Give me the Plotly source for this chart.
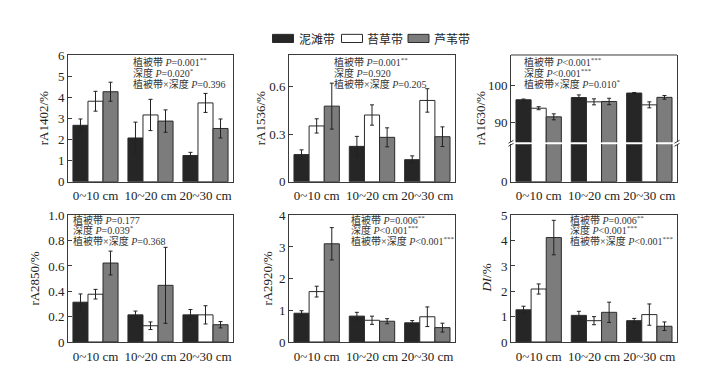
import plotly.graph_objects as go

# ---------------- data ----------------
depths = ["0~10 cm", "10~20 cm", "20~30 cm"]
zones = ["泥滩带", "苔草带", "芦苇带"]

# each list: [泥滩带, 苔草带, 芦苇带] rows, values per depth
rA1402 = [[2.67, 2.07, 1.24], [3.81, 3.16, 3.73], [4.26, 2.87, 2.52]]
rA1402_err = [[0.30, 0.75, 0.15], [0.47, 0.74, 0.45], [0.45, 0.53, 0.45]]

rA1536 = [[0.171, 0.223, 0.139], [0.352, 0.421, 0.513], [0.477, 0.280, 0.284]]
rA1536_err = [[0.030, 0.063, 0.024], [0.045, 0.064, 0.074], [0.145, 0.060, 0.062]]

rA1630 = [[96.15, 96.75, 97.95], [93.9, 95.6, 94.8], [91.6, 95.7, 96.8]]
rA1630_err = [[0.2, 0.7, 0.15], [0.4, 0.8, 0.8], [0.8, 0.85, 0.5]]

rA2850 = [[0.314, 0.214, 0.214], [0.377, 0.128, 0.214], [0.623, 0.447, 0.136]]
rA2850_err = [[0.065, 0.030, 0.042], [0.038, 0.030, 0.072], [0.094, 0.300, 0.025]]

rA2920 = [[0.907, 0.816, 0.605], [1.59, 0.685, 0.796], [3.10, 0.655, 0.453]]
rA2920_err = [[0.08, 0.12, 0.07], [0.17, 0.13, 0.31], [0.51, 0.08, 0.14]]

DI = [[1.27, 1.05, 0.84], [2.09, 0.84, 1.08], [4.12, 1.17, 0.62]]
DI_err = [[0.14, 0.16, 0.09], [0.20, 0.16, 0.42], [0.68, 0.40, 0.17]]

y_titles = ["rA1402/%", "rA1536/%", "rA1630/%", "rA2850/%", "rA2920/%", "<i>DI</i>/%"]

stats_text = [
    ["植被带 <i>P</i>=0.001<sup>**</sup>", "深度 <i>P</i>=0.020<sup>*</sup>", "植被带×深度 <i>P</i>=0.396"],
    ["植被带 <i>P</i>=0.001<sup>**</sup>", "深度 <i>P</i>=0.920", "植被带×深度 <i>P</i>=0.205"],
    ["植被带 <i>P</i>&lt;0.001<sup>***</sup>", "深度 <i>P</i>&lt;0.001<sup>***</sup>", "植被带×深度 <i>P</i>=0.010<sup>*</sup>"],
    ["植被带 <i>P</i>=0.177", "深度 <i>P</i>=0.039<sup>*</sup>", "植被带×深度 <i>P</i>=0.368"],
    ["植被带 <i>P</i>=0.006<sup>**</sup>", "深度 <i>P</i>&lt;0.001<sup>***</sup>", "植被带×深度 <i>P</i>&lt;0.001<sup>***</sup>"],
    ["植被带 <i>P</i>=0.006<sup>**</sup>", "深度 <i>P</i>&lt;0.001<sup>***</sup>", "植被带×深度 <i>P</i>&lt;0.001<sup>***</sup>"],
]

# ---------------- styling / layout ----------------
W, H = 714, 373
def fx(p): return p / W
def fy(p): return 1 - p / H

FONT = "Liberation Serif, Noto Sans CJK SC, serif"
CJK = "Noto Sans CJK SC, Liberation Serif, serif"
bar_colors = ["#262626", "#ffffff", "#7c7c7c"]
edge = "#2b2b2b"
axis_col = "#3a3a3a"

cols = [(68, 233), (289, 455), (511, 677)]
rows = [(50, 182), (217, 349)]

series = [(rA1402, rA1402_err), (rA1536, rA1536_err), (rA1630, rA1630_err),
          (rA2850, rA2850_err), (rA2920, rA2920_err), (DI, DI_err)]
yranges = [[0, 6], [0, 0.8], [84.8, 108.1], [0, 1.0], [0, 4], [0, 5]]
ytickvals = [[0, 1, 2, 3, 4, 5, 6], [0, 0.3, 0.6], [90, 100],
             [0, 0.2, 0.4, 0.6, 0.8, 1.0], [0, 1, 2, 3, 4], [0, 1, 2, 3, 4, 5]]
yticktext = [["0", "1", "2", "3", "4", "5", "6"], ["0", "0.3", "0.6"], ["90", "100"],
             ["0", "0.2", "0.4", "0.6", "0.8", "1.0"], ["0", "1", "2", "3", "4"],
             ["0", "1", "2", "3", "4", "5"]]
title_x = [43, 260, 480, 35, 268, 487]
ann_x = [132, 333, 523, 72, 350, 569]
ann_y = [[60, 71, 82], [224.5, 235, 246]]

fig = go.Figure()
layout = dict(
    width=W, height=H, margin=dict(l=0, r=0, t=0, b=0),
    paper_bgcolor="white", plot_bgcolor="white",
    barmode="group", bargap=0.18, bargroupgap=0,
    showlegend=False, font=dict(family=FONT, size=13, color="#222"),
)

annotations = []
shapes = []

def add_bars(i, xa, ya, with_err=True):
    means, errs = series[i]
    for k in range(3):
        fig.add_trace(go.Bar(
            x=depths, y=means[k], name=zones[k],
            marker=dict(color=bar_colors[k], line=dict(color=edge, width=1)),
            error_y=dict(type="data", array=errs[k], visible=with_err,
                         color="#222", thickness=1, width=2),
            xaxis=xa, yaxis=ya, showlegend=False,
        ))

for i in range(6):
    r, c = divmod(i, 3)
    x0, x1 = cols[c]
    y0, y1 = rows[r]
    n = i + 1
    xa, ya = f"x{n}", f"y{n}"
    add_bars(i, xa, ya)
    xdom = [fx(x0), fx(x1)]
    ax_common = dict(showline=True, linecolor=axis_col, linewidth=1, showgrid=False, zeroline=False)
    if i == 2:
        # broken axis: upper segment and lower segment
        layout[f"xaxis{n}"] = dict(domain=xdom, anchor="y7", type="category", ticks="",
                                   tickfont=dict(size=13, family=FONT), mirror=False,
                                   ticklabelstandoff=2, **ax_common)
        layout[f"yaxis{n}"] = dict(domain=[fy(141), fy(y0)], anchor=xa, range=yranges[i],
                                   tickvals=ytickvals[i], ticktext=yticktext[i],
                                   ticks="inside", ticklen=4, tickcolor=axis_col,
                                   mirror=True, tickfont=dict(size=13, family=FONT), **ax_common)
        add_bars(i, xa, "y7", with_err=False)
        layout["yaxis7"] = dict(domain=[fy(y1), fy(143)], anchor=xa, range=[0, 10],
                                tickvals=[0], ticktext=["0"], ticks="inside", ticklen=4,
                                tickcolor=axis_col, mirror=True,
                                tickfont=dict(size=13, family=FONT), **ax_common)
        shapes.append(dict(type="line", xref="paper", yref="paper",
                           x0=fx(x0), x1=fx(x1), y0=fy(y0), y1=fy(y0),
                           line=dict(color=axis_col, width=1)))
        for xe in (x0, x1):
            for dy in (-1.6, 1.6):
                shapes.append(dict(type="line", xref="paper", yref="paper",
                                   x0=fx(xe - 2.5), x1=fx(xe + 2.5),
                                   y0=fy(142 + dy + 1.5), y1=fy(142 + dy - 1.5),
                                   line=dict(color=axis_col, width=1)))
    else:
        layout[f"xaxis{n}"] = dict(domain=xdom, anchor=ya, type="category", ticks="",
                                   tickfont=dict(size=13, family=FONT), mirror=True,
                                   ticklabelstandoff=2, **ax_common)
        layout[f"yaxis{n}"] = dict(domain=[fy(y1), fy(y0)], anchor=xa, range=yranges[i],
                                   tickvals=ytickvals[i], ticktext=yticktext[i],
                                   ticks="inside", ticklen=4, tickcolor=axis_col,
                                   mirror=True, tickfont=dict(size=13, family=FONT), **ax_common)
    # y title
    annotations.append(dict(text=y_titles[i], x=fx(title_x[i]), y=fy((y0 + y1) / 2),
                            xref="paper", yref="paper", textangle=-90, showarrow=False,
                            xanchor="center", yanchor="middle",
                            font=dict(size=13, family=FONT, color="#222")))
    # stats text (anchored at bottom so baselines stay evenly spaced)
    for j, t in enumerate(stats_text[i]):
        annotations.append(dict(text=t, x=fx(ann_x[i]), y=fy(ann_y[r][j] + 5),
                                xref="paper", yref="paper", showarrow=False,
                                xanchor="left", yanchor="bottom", borderpad=0,
                                font=dict(size=10, family=FONT, color="#333")))

# legend (drawn manually)
leg_boxes = [(272.5, 293.5), (341.5, 362.5), (408, 429)]
for k in range(3):
    bx0, bx1 = leg_boxes[k]
    shapes.append(dict(type="rect", xref="paper", yref="paper",
                       x0=fx(bx0), x1=fx(bx1), y0=fy(37), y1=fy(28.5),
                       fillcolor=bar_colors[k], line=dict(color=edge, width=1)))
    annotations.append(dict(text=zones[k], x=fx(bx1 + 3), y=fy(32.5), xref="paper", yref="paper",
                            showarrow=False, xanchor="left", yanchor="middle",
                            font=dict(size=12, family=CJK, color="#222")))

layout["annotations"] = annotations
layout["shapes"] = shapes
fig.update_layout(**layout)
fig.write_html("out.html", config={"displayModeBar": False},
               post_script="document.body.style.margin='0';document.body.style.overflow='hidden';")
